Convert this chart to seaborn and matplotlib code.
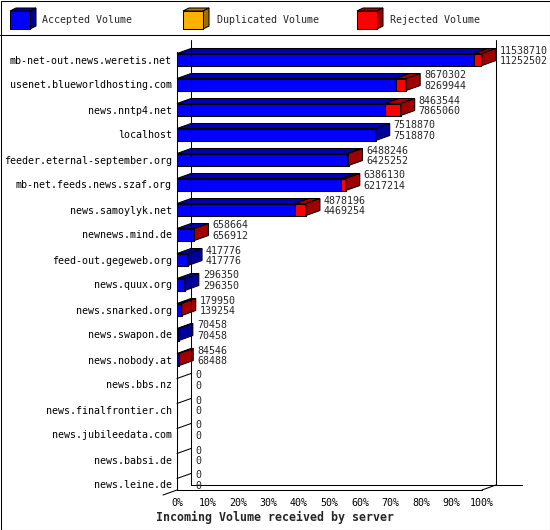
import matplotlib
matplotlib.use("Agg")
import matplotlib.pyplot as plt
import matplotlib.transforms as mtransforms
from matplotlib.patches import Polygon, Rectangle
from matplotlib.lines import Line2D
import pandas as pd
import seaborn as sns

# ---- data ----
hosts = [
    "mb-net-out.news.weretis.net",
    "usenet.blueworldhosting.com",
    "news.nntp4.net",
    "localhost",
    "feeder.eternal-september.org",
    "mb-net.feeds.news.szaf.org",
    "news.samoylyk.net",
    "newnews.mind.de",
    "feed-out.gegeweb.org",
    "news.quux.org",
    "news.snarked.org",
    "news.swapon.de",
    "news.nobody.at",
    "news.bbs.nz",
    "news.finalfrontier.ch",
    "news.jubileedata.com",
    "news.babsi.de",
    "news.leine.de",
]
total_volume = [11538710, 8670302, 8463544, 7518870, 6488246, 6386130, 4878196,
                658664, 417776, 296350, 179950, 70458, 84546, 0, 0, 0, 0, 0]
accepted_volume = [11252502, 8269944, 7865060, 7518870, 6425252, 6217214, 4469254,
                   656912, 417776, 296350, 139254, 70458, 68488, 0, 0, 0, 0, 0]

legend_labels = ["Accepted Volume", "Duplicated Volume", "Rejected Volume"]
xtick_values = [0, 10, 20, 30, 40, 50, 60, 70, 80, 90, 100]
xtick_labels = ["0%", "10%", "20%", "30%", "40%", "50%", "60%", "70%", "80%", "90%", "100%"]
xlabel = "Incoming Volume received by server"

# ---- styling ----
FRONT = {"accepted": "#0000FF", "duplicated": "#FFB000", "rejected": "#FF0000"}
TOP = {"accepted": "#0000B4", "duplicated": "#B47C00", "rejected": "#AA0000"}
SIDE = {"accepted": "#00009C", "duplicated": "#A06E00", "rejected": "#A00000"}
LW = 0.75

sns.set_style("white")
plt.rcParams["font.family"] = ["DejaVu Sans Mono"]
plt.rcParams["font.size"] = 7.2

W, H = 550, 530
fig = plt.figure(figsize=(W / 100, H / 100), dpi=100)
fig.patch.set_facecolor("white")

# pixel transform on the figure (origin top-left)
px = mtransforms.Affine2D().scale(1 / W, -1 / H).translate(0, 1) + fig.transFigure

# plot area: front face of the 3D box
ax_left, ax_right, ax_top, ax_bottom = 177, 482, 52, 490
ax = fig.add_axes([ax_left / W, (H - ax_bottom) / H,
                   (ax_right - ax_left) / W, (ax_bottom - ax_top) / H])

max_total = max(total_volume)
df = pd.DataFrame({
    "host": hosts,
    "total_pct": [v / max_total * 100 for v in total_volume],
    "accepted_pct": [v / max_total * 100 for v in accepted_volume],
})

bar_w = 0.48
sns.barplot(data=df, y="host", x="total_pct", orient="h", color=FRONT["rejected"],
            saturation=1, width=bar_w, edgecolor="black", linewidth=LW, ax=ax)
sns.barplot(data=df, y="host", x="accepted_pct", orient="h", color=FRONT["accepted"],
            saturation=1, width=bar_w, edgecolor="black", linewidth=LW, ax=ax)

row_px = 25.0
y_top = -(59.5 - ax_top) / row_px
y_bot = (ax_bottom - 59.5) / row_px
ax.set_xlim(0, 100)
ax.set_ylim(y_bot, y_top)

# 3D depth in data units (14 px right, 5 px up)
dx = 14 * 100 / (ax_right - ax_left)
dy = 5 / row_px

for i, row in df.iterrows():
    acc, tot = row["accepted_pct"], row["total_pct"]
    top, bottom = i - bar_w / 2, i + bar_w / 2
    segs = [(0, acc, "accepted"), (acc, tot, "rejected")]
    segs = [s for s in segs if s[1] > s[0]]
    if not segs:
        ax.plot([0, dx], [top, top - dy], color="black", lw=LW, clip_on=False)
    for x0, x1, key in segs:
        ax.add_patch(Polygon([(x0, top), (x1, top), (x1 + dx, top - dy), (x0 + dx, top - dy)],
                             closed=True, fc=TOP[key], ec="black", lw=LW, clip_on=False))
    if segs:
        x0, x1, key = segs[-1]
        ax.add_patch(Polygon([(x1, top), (x1, bottom), (x1 + dx, bottom - dy), (x1 + dx, top - dy)],
                             closed=True, fc=SIDE[key], ec="black", lw=LW, clip_on=False))
    ax.annotate(f"{total_volume[i]}", xy=(tot, i), xytext=(18, 9), textcoords="offset pixels",
                ha="left", va="center", fontsize=7.2)
    ax.annotate(f"{accepted_volume[i]}", xy=(tot, i), xytext=(18, -1.5), textcoords="offset pixels",
                ha="left", va="center", fontsize=7.2)

# walls and floor of the 3D box
wall_top = y_top - 0.48
for xs, ys in [
    ([dx, dx], [wall_top, y_bot - dy]),
    ([100 + dx, 100 + dx], [wall_top, y_bot - dy]),
    ([dx, 113], [y_bot - dy, y_bot - dy]),
    ([-dx, 0], [y_bot + dy, y_bot]),
    ([100, 100 + dx], [y_bot, y_bot - dy]),
]:
    ax.plot(xs, ys, color="black", lw=LW, clip_on=False)

for side in ["top", "right"]:
    ax.spines[side].set_visible(False)
for side in ["left", "bottom"]:
    ax.spines[side].set_color("black")
    ax.spines[side].set_linewidth(LW)

ax.set_xticks(xtick_values)
ax.set_xticklabels(xtick_labels)
ax.set_xlabel("")
ax.set_ylabel("")
ax.tick_params(axis="x", length=3, width=LW, direction="out", pad=3, labelsize=7.2, colors="black")
ax.tick_params(axis="y", length=0, pad=3.6, labelsize=7.2, colors="black")
ax.patch.set_alpha(0)

fig.text(156 / W, 1 - 517 / H, xlabel, ha="left", va="center",
         fontsize=8.4, fontweight="bold")

# legend with 3D cube icons
def cube(x, y, key, w=20, h=18, ddx=6, ddy=3):
    fig.patches.append(Polygon([(x, y), (x + w, y), (x + w + ddx, y - ddy), (x + ddx, y - ddy)],
                               closed=True, fc=TOP[key], ec="black", lw=LW, transform=px))
    fig.patches.append(Polygon([(x + w, y), (x + w, y + h), (x + w + ddx, y + h - ddy), (x + w + ddx, y - ddy)],
                               closed=True, fc=SIDE[key], ec="black", lw=LW, transform=px))
    fig.patches.append(Rectangle((x, y), w, h, fc=FRONT[key], ec="black", lw=LW, transform=px))

for x_icon, x_text, key, label in zip([10, 183, 357], [42, 217, 390],
                                      ["accepted", "duplicated", "rejected"], legend_labels):
    cube(x_icon, 11, key)
    fig.text(x_text / W, 1 - 20 / H, label, ha="left", va="center", fontsize=7.2)

fig.lines.append(Line2D([0, W], [35, 35], color="black", lw=LW, transform=px))
fig.patches.append(Rectangle((0.5, 0.5), W - 1, H - 1, fill=False, ec="black", lw=LW, transform=px))

fig.savefig("out.png", dpi=100)
